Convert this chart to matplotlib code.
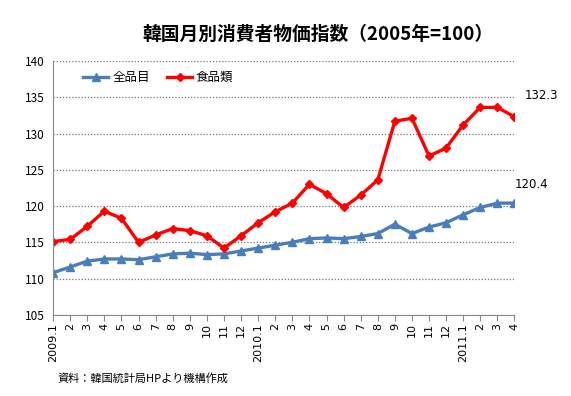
import matplotlib
matplotlib.use("Agg")
import matplotlib.pyplot as plt
import numpy as np

plt.rcParams['font.family'] = ['Noto Sans CJK JP', 'DejaVu Sans']

# x軸ラベル
months = ["2009.1", "2", "3", "4", "5", "6", "7", "8", "9", "10", "11", "12",
          "2010.1", "2", "3", "4", "5", "6", "7", "8", "9", "10", "11", "12",
          "2011.1", "2", "3", "4"]

# 全品目
all_items = [110.8, 111.6, 112.4, 112.7, 112.7, 112.6, 113.0, 113.4, 113.5, 113.3, 113.4, 113.8,
             114.2, 114.6, 115.0, 115.5, 115.6, 115.5, 115.8, 116.2, 117.5, 116.2, 117.1, 117.7,
             118.8, 119.8, 120.4, 120.4]

# 食品類
food = [115.1, 115.4, 117.2, 119.3, 118.3, 115.0, 116.0, 116.9, 116.6, 115.9, 114.2, 115.9,
        117.7, 119.2, 120.4, 123.0, 121.7, 119.8, 121.5, 123.6, 131.7, 132.1, 126.9, 128.0,
        131.2, 133.6, 133.6, 132.3]

yticks = [105, 110, 115, 120, 125, 130, 135, 140]

fig = plt.figure(figsize=(5.71, 3.96), dpi=100)
ax = fig.add_axes([0.093, 0.205, 0.808, 0.641])

x = np.arange(len(months))
ax.plot(x, all_items, color='#4a7ebb', lw=2.4, marker='^', ms=6, label='全品目')
ax.plot(x, food, color='#ff0000', lw=2.4, marker='D', ms=4, label='食品類')

ax.set_xlim(0, len(months) - 1)
ax.set_ylim(105, 140)
ax.set_yticks(yticks)
ax.set_xticks(x)
ax.set_xticklabels(months, rotation=90, fontsize=8, family='DejaVu Sans')
ax.tick_params(axis='y', labelsize=8.5, length=0, pad=6)
ax.tick_params(axis='x', length=4, color='#888888', pad=2)

ax.grid(axis='y', linestyle=(0, (1, 1.5)), color='#777777', lw=0.9)
for s in ['top', 'right']:
    ax.spines[s].set_visible(False)
for s in ['left', 'bottom']:
    ax.spines[s].set_color('#888888')

# 最新値
ax.annotate(f"{food[-1]}", (x[-1], food[-1]), xytext=(7, 13), textcoords='offset points',
            fontsize=8.5, family='DejaVu Sans')
ax.annotate(f"{all_items[-1]}", (x[-1], all_items[-1]), xytext=(0, 11), textcoords='offset points',
            fontsize=8.5, family='DejaVu Sans')

ax.legend(loc='center left', bbox_to_anchor=(0.055, 0.935), ncol=2, frameon=False, fontsize=9,
          handlelength=2.0, handletextpad=0.3, columnspacing=1.4, borderaxespad=0)

fig.text(0.556, 0.9, '韓国月別消費者物価指数（2005年=100）', ha='center', fontsize=13.5, fontweight='bold')
fig.text(0.1, 0.035, '資料：韓国統計局HPより機構作成', fontsize=8)

fig.savefig('out.png', dpi=100)
